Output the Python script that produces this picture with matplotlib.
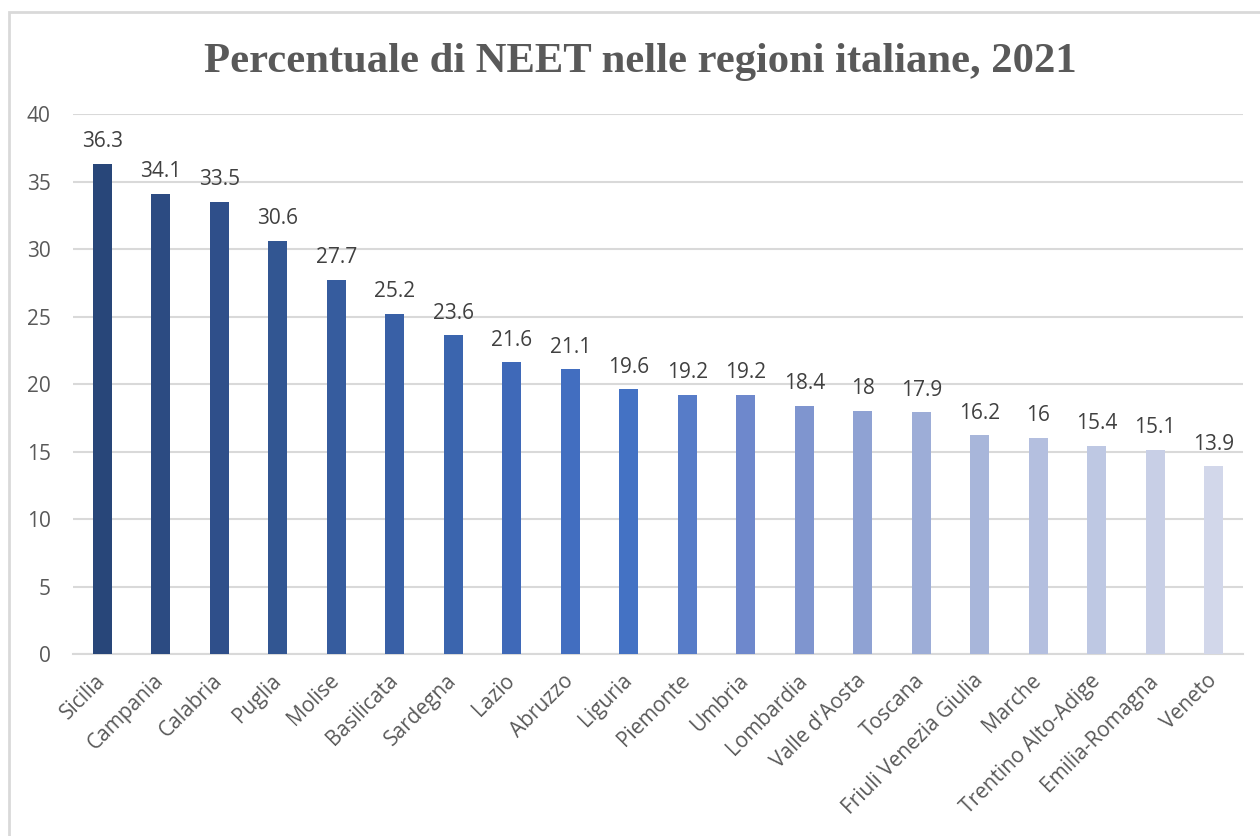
import numpy as np
import matplotlib.pyplot as plt
from matplotlib.patches import Rectangle

# data
regioni = ['Sicilia', 'Campania', 'Calabria', 'Puglia', 'Molise', 'Basilicata',
           'Sardegna', 'Lazio', 'Abruzzo', 'Liguria', 'Piemonte', 'Umbria',
           'Lombardia', "Valle d'Aosta", 'Toscana', 'Friuli Venezia Giulia',
           'Marche', 'Trentino Alto-Adige', 'Emilia-Romagna', 'Veneto']
neet = [36.3, 34.1, 33.5, 30.6, 27.7, 25.2, 23.6, 21.6, 21.1, 19.6,
        19.2, 19.2, 18.4, 18, 17.9, 16.2, 16, 15.4, 15.1, 13.9]
yticks = [0, 5, 10, 15, 20, 25, 30, 35, 40]

# colori (monocromatico tipo Excel)
colori = ['#284679', '#2c4b82', '#2f4f8a', '#325692', '#365c9e', '#3960a6',
          '#3b65ae', '#3f69b8', '#426ec0', '#4472c4', '#577cc8', '#6e88cc',
          '#7f95cf', '#8fa2d3', '#9dadd7', '#a8b6da', '#b4bfdf', '#bec8e3',
          '#c8cfe6', '#d2d7ea']

plt.rcParams['font.family'] = ['Open Sans', 'DejaVu Sans']

fig = plt.figure(figsize=(12.6, 8.36), dpi=100)
ax = fig.add_axes([0.0579, 0.2177, 0.9286, 0.6459])

x = np.arange(len(regioni))
bars = ax.bar(x, neet, width=0.33, color=colori, zorder=3)

for xi, v in zip(x, neet):
    ax.annotate(f'{v:g}', (xi, v), xytext=(0, 12), textcoords='offset points',
                ha='center', va='baseline', fontsize=15, color='#404040')

ax.set_xlim(-0.5, len(regioni) - 0.5)
ax.set_ylim(0, 40)
ax.set_yticks(yticks)
ax.set_xticks(x)
ax.set_xticklabels(regioni, rotation=45, ha='right', va='center',
                   rotation_mode='anchor')
ax.tick_params(axis='both', length=0, labelsize=15, labelcolor='#595959')
ax.tick_params(axis='x', pad=17)
ax.tick_params(axis='y', pad=16)

ax.grid(axis='y', color='#d9d9d9', linewidth=1.5, zorder=0)
for s in ['top', 'right', 'left']:
    ax.spines[s].set_visible(False)
ax.spines['bottom'].set_color('#d9d9d9')
ax.spines['bottom'].set_linewidth(1.5)

fig.text(0.508, 0.926, 'Percentuale di NEET nelle regioni italiane, 2021',
         ha='center', va='center', fontsize=30.7, fontweight='bold',
         family='Liberation Serif', color='#595959')

# cornice
fig.patches.append(Rectangle((9 / 1260, -0.1), 1.1, 0.9856 + 0.1,
                             transform=fig.transFigure, fill=False,
                             edgecolor='#d9d9d9', linewidth=2))

fig.savefig('out.png', dpi=100)
